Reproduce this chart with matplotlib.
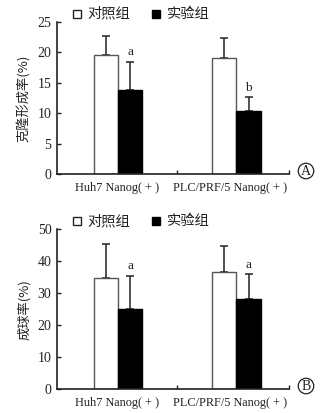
import matplotlib
matplotlib.use("Agg")
import matplotlib.pyplot as plt
from matplotlib.patches import Ellipse, Rectangle

plt.rcParams['font.family'] = ['Liberation Serif', 'Noto Sans CJK SC']

groups = ["Huh7 Nanog( + )", "PLC/PRF/5 Nanog( + )"]
series_names = ["对照组", "实验组"]

# Panel A: colony formation rate (%)
colony_ctrl = [19.6, 19.0]
colony_ctrl_err = [3.1, 3.4]
colony_exp = [13.8, 10.4]
colony_exp_err = [4.6, 2.2]
colony_marks = ["a", "b"]

# Panel B: sphere formation rate (%)
sphere_ctrl = [34.8, 36.6]
sphere_ctrl_err = [10.7, 8.3]
sphere_exp = [25.1, 28.3]
sphere_exp_err = [10.3, 7.6]
sphere_marks = ["a", "a"]

centers = [2.5, 7.35]
label_pos = [2.45, 7.1]
bar_w = 1.0
ink = "#222222"
cjk = ['Noto Sans CJK SC', 'DejaVu Sans']

W, H = 329, 413
fig = plt.figure(figsize=(W / 100, H / 100), dpi=100)


def panel(rect, ctrl, ctrl_err, exp, exp_err, marks, ymax, ystep, ylabel, letter, mark_gap):
    ax = fig.add_axes(rect)
    xc = [c - bar_w / 2 for c in centers]
    xe = [c + bar_w / 2 for c in centers]
    ax.bar(xc, ctrl, width=bar_w, color="white", edgecolor="#555555", linewidth=1.0, zorder=2)
    ax.bar(xe, exp, width=bar_w, color="black", edgecolor="black", linewidth=1.0, zorder=2)
    ax.errorbar(xc, ctrl, yerr=[[0] * len(ctrl), ctrl_err], fmt="none", ecolor=ink,
                elinewidth=1.1, capsize=3.2, capthick=1.1, zorder=1)
    ax.errorbar(xe, exp, yerr=[[0] * len(exp), exp_err], fmt="none", ecolor=ink,
                elinewidth=1.1, capsize=3.2, capthick=1.1, zorder=1)
    for x, v, e, m in zip(xe, exp, exp_err, marks):
        ax.text(x, v + e + mark_gap, m, ha="center", va="bottom", fontsize=9.5, color=ink)
    ax.set_xlim(0, 9.5)
    ax.set_ylim(0, ymax)
    ax.set_yticks(range(0, ymax + 1, ystep))
    ax.set_xticks([4.9, 9.5])
    ax.set_xticklabels([])
    ax.set_xticks(label_pos, minor=True)
    ax.set_xticklabels(groups, minor=True, fontsize=8.8, color=ink)
    ax.tick_params(axis="x", which="minor", length=0, pad=6)
    ax.tick_params(axis="x", which="major", direction="in", length=3, width=1.0, color=ink)
    ax.tick_params(axis="y", direction="in", length=3, width=1.0, color=ink,
                   labelsize=10, labelcolor=ink, pad=4)
    for s in ["top", "right"]:
        ax.spines[s].set_visible(False)
    for s in ["left", "bottom"]:
        ax.spines[s].set_linewidth(1.2)
        ax.spines[s].set_color(ink)
    ax.set_ylabel(ylabel, family=cjk, fontsize=9.5, color=ink, labelpad=5)

    # legend row above the axes
    ly = rect[1] + rect[3] + 0.02
    sw, sh = 8 / W, 8 / H
    fig.add_artist(Rectangle((72.5 / W, ly - sh / 2), sw, sh, transform=fig.transFigure,
                             facecolor="white", edgecolor=ink, linewidth=1.0))
    fig.text(87 / W, ly, series_names[0], family=cjk, fontsize=10.3, va="center", color=ink)
    fig.add_artist(Rectangle((152 / W, ly - sh / 2), sw, sh, transform=fig.transFigure,
                             facecolor="black", edgecolor="black", linewidth=1.0))
    fig.text(167 / W, ly, series_names[1], family=cjk, fontsize=10.3, va="center", color=ink)

    # circled panel letter
    cx, cy = 306 / W, rect[1] + 3 / H
    fig.add_artist(Ellipse((cx, cy), 15.5 / W, 15.5 / H, transform=fig.transFigure,
                           facecolor="none", edgecolor=ink, linewidth=0.9))
    fig.text(cx, cy - 0.001, letter, ha="center", va="center", fontsize=10, color=ink)
    return ax


panel([57 / W, 1 - 174 / H, 232 / W, 152 / H], colony_ctrl, colony_ctrl_err,
      colony_exp, colony_exp_err, colony_marks, 25, 5, "克隆形成率(%)", "A", 0.6)
panel([57 / W, 1 - 389 / H, 232 / W, 159.7 / H], sphere_ctrl, sphere_ctrl_err,
      sphere_exp, sphere_exp_err, sphere_marks, 50, 10, "成球率(%)", "B", 1.2)

fig.savefig("out.png", dpi=100)
